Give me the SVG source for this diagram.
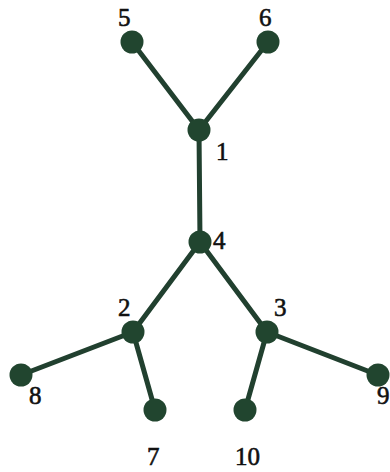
<svg xmlns="http://www.w3.org/2000/svg" width="390" height="472" viewBox="0 0 390 472">
<style>
.e{stroke:#21402f;stroke-width:5;stroke-linecap:round}
.n{fill:#21452f}
.t{font-family:"Liberation Serif","Times New Roman",serif;font-size:25px;fill:#111;stroke:#111;stroke-width:0.6}
</style>
<rect width="390" height="472" fill="#fff"/>
<g id="edges">
<line class="e" x1="132" y1="42" x2="199" y2="130"/>
<line class="e" x1="268" y1="42" x2="199" y2="130"/>
<line class="e" x1="199" y1="130" x2="200" y2="242"/>
<line class="e" x1="200" y1="242" x2="133" y2="332"/>
<line class="e" x1="200" y1="242" x2="267" y2="332"/>
<line class="e" x1="133" y1="332" x2="21" y2="375"/>
<line class="e" x1="133" y1="332" x2="155" y2="410"/>
<line class="e" x1="267" y1="332" x2="245" y2="410"/>
<line class="e" x1="267" y1="332" x2="378" y2="375"/>
</g>
<g id="n1"><circle class="n" cx="199" cy="130" r="11.5"/><text class="t" x="216" y="160">1</text></g>
<g id="n2"><circle class="n" cx="133" cy="332" r="11.5"/><text class="t" x="118" y="316">2</text></g>
<g id="n3"><circle class="n" cx="267" cy="332" r="11.5"/><text class="t" x="274" y="316">3</text></g>
<g id="n4"><circle class="n" cx="200" cy="242" r="11.5"/><text class="t" x="213" y="249">4</text></g>
<g id="n5"><circle class="n" cx="132" cy="42" r="11.5"/><text class="t" x="118" y="26">5</text></g>
<g id="n6"><circle class="n" cx="268" cy="42" r="11.5"/><text class="t" x="259" y="26">6</text></g>
<g id="n7"><circle class="n" cx="155" cy="410" r="11.5"/><text class="t" x="147" y="465">7</text></g>
<g id="n8"><circle class="n" cx="21" cy="375" r="11.5"/><text class="t" x="29" y="404">8</text></g>
<g id="n9"><circle class="n" cx="378" cy="375" r="11.5"/><text class="t" x="377" y="404">9</text></g>
<g id="n10"><circle class="n" cx="245" cy="410" r="11.5"/><text class="t" x="235" y="465">10</text></g>
</svg>
